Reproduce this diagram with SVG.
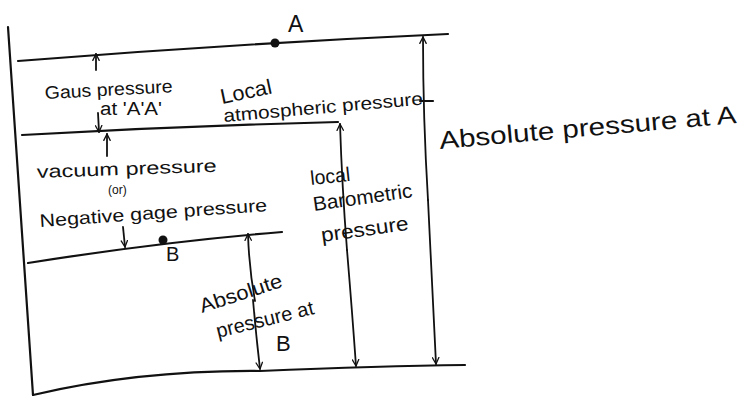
<svg xmlns="http://www.w3.org/2000/svg" width="741" height="399" viewBox="0 0 741 399">
  <style>
    .ln { fill: none; stroke: #111; stroke-width: 2.2; stroke-linecap: round; stroke-linejoin: round; }
    .ar { fill: none; stroke: #111; stroke-width: 1.8; stroke-linecap: round; }
    .lbl { font-family: "Liberation Sans", "DejaVu Sans", sans-serif; fill: #111; font-size: 18px; }
    .big { font-size: 25px; }
    .dot { fill: #111; }
  </style>
  <defs>
    <marker id="head" viewBox="0 0 10 10" refX="9" refY="5" markerWidth="8" markerHeight="8" markerUnits="userSpaceOnUse" orient="auto">
      <path d="M1,1 L9,5 L1,9" fill="none" stroke="#111" stroke-width="1.6" stroke-linecap="round"/>
    </marker>
  </defs>
  <rect width="741" height="399" fill="#ffffff"/>

  <!-- pressure levels and datum -->
  <g id="levels">
    <path class="ln" d="M8,27 Q20,210 33,395"/>
    <path id="level-a" class="ln" d="M18,61 Q230,44 448,34"/>
    <path id="level-atm" class="ln" d="M22,135 Q180,126 338,122"/>
    <path id="level-b" class="ln" d="M28,263 Q160,242 282,232"/>
    <path id="datum" class="ln" d="M33,395 Q140,370 260,371 Q380,366 465,365"/>
    <path class="ln" d="M420,101 L433,101"/>
  </g>

  <g id="point-a">
    <circle class="dot" cx="275" cy="43" r="4.5"/>
    <text class="lbl" x="288" y="32" style="font-size:23px">A</text>
  </g>
  <g id="point-b">
    <circle class="dot" cx="163" cy="240" r="4.5"/>
    <text class="lbl" x="166" y="261" style="font-size:20px">B</text>
  </g>

  <!-- dimension arrows -->
  <g id="connectors">
    <path class="ar" d="M96,70 L96,54" marker-end="url(#head)"/>
    <path class="ar" d="M98,113 L99,132" marker-end="url(#head)"/>
    <path class="ar" d="M107,156 L107,134" marker-end="url(#head)"/>
    <path class="ar" d="M123,227 L125,247" marker-end="url(#head)"/>
    <path class="ar" d="M255,301 Q249,268 248,234" marker-end="url(#head)"/>
    <path class="ar" d="M253,300 Q256,335 260,369" marker-end="url(#head)"/>
    <path class="ar" d="M347,250 Q342,186 340,124" marker-end="url(#head)"/>
    <path class="ar" d="M347,250 Q352,310 356,366" marker-end="url(#head)"/>
    <path class="ar" d="M428,200 Q423,118 423,37" marker-end="url(#head)"/>
    <path class="ar" d="M428,200 Q432,285 436,364" marker-end="url(#head)"/>
  </g>

  <g id="gauge-label">
    <text class="lbl" x="45" y="99" textLength="128" lengthAdjust="spacingAndGlyphs" transform="rotate(-3 45 99)">Gaus pressure</text>
    <text class="lbl" x="100" y="115" textLength="62" lengthAdjust="spacingAndGlyphs">at 'A'A'</text>
  </g>
  <g id="atm-label">
    <text class="lbl" x="222" y="104" style="font-size:21px" textLength="52" lengthAdjust="spacingAndGlyphs" transform="rotate(-12 222 104)">Local</text>
    <text class="lbl" x="224" y="122" textLength="200" lengthAdjust="spacingAndGlyphs" transform="rotate(-5 224 122)">atmospheric pressure</text>
  </g>
  <g id="vacuum-label">
    <text class="lbl" x="37" y="178" textLength="180" lengthAdjust="spacingAndGlyphs" transform="rotate(-2 37 178)">vacuum pressure</text>
    <text class="lbl" x="108" y="194" style="font-size:12px">(or)</text>
    <text class="lbl" x="40" y="227" textLength="228" lengthAdjust="spacingAndGlyphs" transform="rotate(-4 40 227)">Negative gage pressure</text>
  </g>
  <g id="barometric-label">
    <text class="lbl" x="311" y="185" style="font-size:20px" textLength="40" lengthAdjust="spacingAndGlyphs" transform="rotate(-6 311 185)">local</text>
    <text class="lbl" x="314" y="211" style="font-size:20px" textLength="100" lengthAdjust="spacingAndGlyphs" transform="rotate(-8 314 211)">Barometric</text>
    <text class="lbl" x="322" y="242" style="font-size:20px" textLength="88" lengthAdjust="spacingAndGlyphs" transform="rotate(-8 322 242)">pressure</text>
  </g>
  <g id="abs-b-label">
    <text class="lbl" x="202" y="313" style="font-size:20px" textLength="86" lengthAdjust="spacingAndGlyphs" transform="rotate(-18 202 313)">Absolute</text>
    <text class="lbl" x="218" y="338" style="font-size:20px" textLength="100" lengthAdjust="spacingAndGlyphs" transform="rotate(-14 218 338)">pressure at</text>
    <text class="lbl" x="276" y="351" style="font-size:22px">B</text>
  </g>
  <g id="abs-a-label">
    <text class="lbl big" x="440" y="149" textLength="298" lengthAdjust="spacingAndGlyphs" transform="rotate(-5 440 149)">Absolute pressure at A</text>
  </g>
</svg>
